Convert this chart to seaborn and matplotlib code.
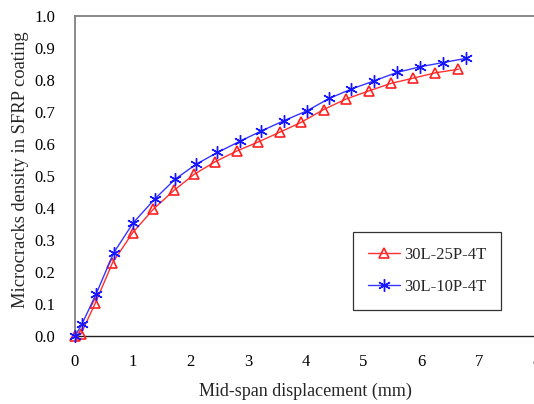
import matplotlib
matplotlib.use("Agg")
import matplotlib.pyplot as plt
import seaborn as sns
import pandas as pd

red_x = [0.0, 0.10, 0.35, 0.65, 1.0, 1.36, 1.72, 2.07, 2.43, 2.81, 3.18, 3.56, 3.92, 4.31, 4.70, 5.09, 5.48, 5.86, 6.25, 6.65]
red_y = [0.0, 0.006, 0.102, 0.229, 0.323, 0.397, 0.456, 0.506, 0.545, 0.579, 0.607, 0.638, 0.668, 0.708, 0.741, 0.766, 0.790, 0.806, 0.823, 0.834]
blue_x = [0.0, 0.12, 0.37, 0.67, 1.01, 1.38, 1.74, 2.10, 2.47, 2.86, 3.23, 3.62, 4.02, 4.41, 4.79, 5.19, 5.58, 5.99, 6.38, 6.78]
blue_y = [0.0, 0.037, 0.133, 0.260, 0.354, 0.428, 0.491, 0.537, 0.574, 0.609, 0.641, 0.673, 0.704, 0.743, 0.772, 0.798, 0.824, 0.842, 0.855, 0.868]
labels = ["30L-25P-4T", "30L-10P-4T"]

sns.set_style("white")
plt.rcParams['font.family'] = ['Liberation Serif', 'DejaVu Serif']

fig = plt.figure(figsize=(5.34, 4.04), dpi=100)
ax = fig.add_axes([0.1404, 0.168, 0.864, 0.792])

df_r = pd.DataFrame({"x": red_x, "y": red_y})
df_b = pd.DataFrame({"x": blue_x, "y": blue_y})
sns.lineplot(data=df_r, x="x", y="y", ax=ax, color="#ff3030", lw=1.0,
             marker="^", markersize=7, markerfacecolor="none",
             markeredgecolor="#ff2020", markeredgewidth=1.2, label=labels[0],
             sort=False, clip_on=False, zorder=3)
sns.lineplot(data=df_b, x="x", y="y", ax=ax, color="#3535ff", lw=1.0,
             marker=(6, 2, 0), markersize=9, markeredgecolor="#1515ff",
             markeredgewidth=1.0, label=labels[1], sort=False, clip_on=False, zorder=3)

ax.set_xlim(0, 8)
ax.set_ylim(0, 1.0)
ax.set_xticks(range(0, 9))
ax.set_yticks([i / 10 for i in range(11)])
ax.set_yticklabels([f"{i/10:.1f}" for i in range(11)])
ax.tick_params(axis="both", direction="in", length=5, labelsize=12, colors="black")
ax.tick_params(axis="y", color="#808080", pad=14)
ax.tick_params(axis="x", color="black", pad=13)
for s in ["left", "top"]:
    ax.spines[s].set_color("#808080")
    ax.spines[s].set_linewidth(1.3)
ax.spines["bottom"].set_color("#202020")
ax.spines["bottom"].set_linewidth(1.0)
ax.spines["right"].set_visible(False)

ax.set_xlabel("Mid-span displacement (mm)", fontsize=13, labelpad=9)
ax.set_ylabel("Microcracks density in SFRP coating", fontsize=13.3, labelpad=4)
ax.yaxis.label.set_y(0.519)

leg = ax.legend(loc="upper left", bbox_to_anchor=(0.603, 0.325), fontsize=12,
                frameon=True, fancybox=False, edgecolor="black", borderpad=0.9,
                labelspacing=0.95, handlelength=1.9, handletextpad=0.25, borderaxespad=0)
leg.get_frame().set_linewidth(0.9)

fig.savefig("out.png", dpi=100)
